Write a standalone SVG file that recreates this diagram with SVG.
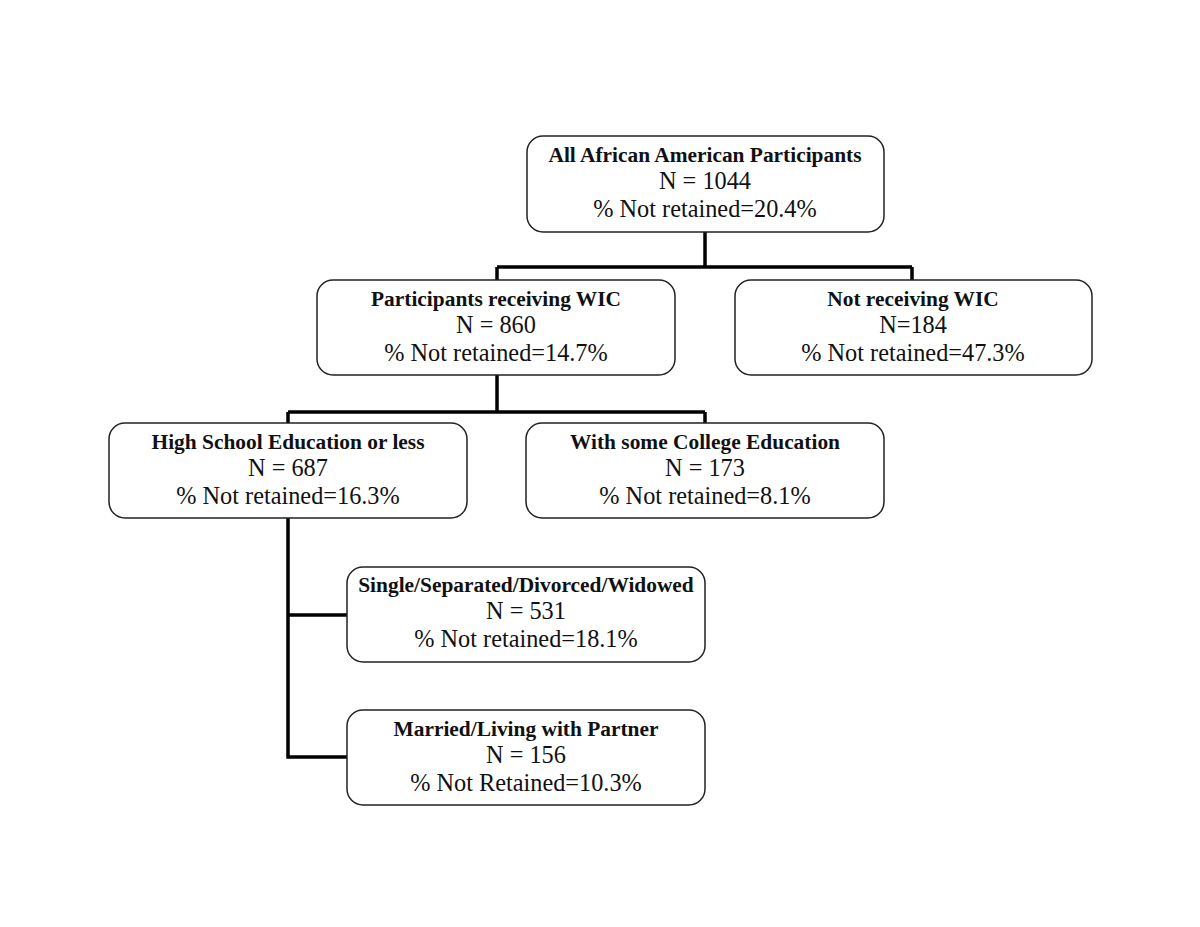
<svg xmlns="http://www.w3.org/2000/svg" width="1200" height="927" viewBox="0 0 1200 927">
<style>
.box{fill:#fff;stroke:#222;stroke-width:1.5}
.t{font-family:"Liberation Serif",serif;font-weight:bold;font-size:21.4px;text-anchor:middle;fill:#111}
.v{font-family:"Liberation Serif",serif;font-size:24.3px;text-anchor:middle;fill:#111}
.c{fill:none;stroke:#000;stroke-width:3.5}
</style>
<rect width="1200" height="927" fill="#fff"/>
<g id="connectors">
<path class="c" d="M705 232V267M497 267H912M497 267V280M912 267V280"/>
<path class="c" d="M497 375V412M288 412H705M288 412V423M705 412V423"/>
<path class="c" d="M288 518V757H347M288 615H347"/>
</g>
<g id="all">
<rect class="box" x="527" y="136" width="357" height="96" rx="16"/>
<text class="t" x="705" y="162">All African American Participants</text>
<text class="v" x="705" y="189">N = 1044</text>
<text class="v" x="705" y="217">% Not retained=20.4%</text>
</g>
<g id="wic">
<rect class="box" x="317" y="280" width="358" height="95" rx="16"/>
<text class="t" x="496" y="306">Participants receiving WIC</text>
<text class="v" x="496" y="333">N = 860</text>
<text class="v" x="496" y="361">% Not retained=14.7%</text>
</g>
<g id="nowic">
<rect class="box" x="735" y="280" width="357" height="95" rx="16"/>
<text class="t" x="913" y="306">Not receiving WIC</text>
<text class="v" x="913" y="333">N=184</text>
<text class="v" x="913" y="361">% Not retained=47.3%</text>
</g>
<g id="hs">
<rect class="box" x="109" y="423" width="358" height="95" rx="16"/>
<text class="t" x="288" y="449">High School Education or less</text>
<text class="v" x="288" y="476">N = 687</text>
<text class="v" x="288" y="504">% Not retained=16.3%</text>
</g>
<g id="college">
<rect class="box" x="526" y="423" width="358" height="95" rx="16"/>
<text class="t" x="705" y="449">With some College Education</text>
<text class="v" x="705" y="476">N = 173</text>
<text class="v" x="705" y="504">% Not retained=8.1%</text>
</g>
<g id="single">
<rect class="box" x="347" y="567" width="358" height="95" rx="16"/>
<text class="t" x="526" y="592">Single/Separated/Divorced/Widowed</text>
<text class="v" x="526" y="619">N = 531</text>
<text class="v" x="526" y="647">% Not retained=18.1%</text>
</g>
<g id="married">
<rect class="box" x="347" y="710" width="358" height="95" rx="16"/>
<text class="t" x="526" y="736">Married/Living with Partner</text>
<text class="v" x="526" y="763">N = 156</text>
<text class="v" x="526" y="791">% Not Retained=10.3%</text>
</g>
</svg>
